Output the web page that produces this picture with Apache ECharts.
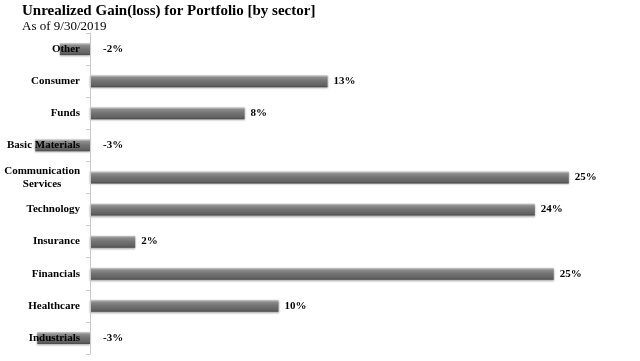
<!DOCTYPE html>
<html>
<head>
<meta charset="utf-8">
<script src="https://cdn.jsdelivr.net/npm/echarts@6/dist/echarts.min.js"></script>
<style>html,body{margin:0;padding:0;background:#fff;}#c{width:640px;height:361px;}</style>
</head>
<body>
<div id="c"></div>
<script>
var categories = ["Other", "Consumer", "Funds", "Basic Materials", "Communication\nServices", "Technology", "Insurance", "Financials", "Healthcare", "Industrials"];
var values = [-1.6, 12.6, 8.2, -2.9, 25.4, 23.6, 2.4, 24.6, 10.0, -2.8];
var titleText = "Unrealized Gain(loss) for Portfolio [by sector]";
var subText = "As of 9/30/2019";

var font = "'Liberation Serif', 'Times New Roman', serif";
var chart = echarts.init(document.getElementById('c'), null, {renderer: 'canvas'});
var barColor = new echarts.graphic.LinearGradient(0, 0, 0, 1, [
  {offset: 0, color: '#d2d2d2'},
  {offset: 0.18, color: '#8c8c8c'},
  {offset: 0.5, color: '#727272'},
  {offset: 0.85, color: '#626262'},
  {offset: 1, color: '#474747'}
]);
chart.setOption({
  animation: false,
  title: {
    text: titleText,
    subtext: subText,
    left: 17,
    top: -1,
    itemGap: 1,
    textStyle: {fontFamily: font, fontWeight: 'bold', fontSize: 15, color: '#000'},
    subtextStyle: {fontFamily: font, fontWeight: 'normal', fontSize: 13, color: '#000'}
  },
  grid: {left: 14.6, right: 59.9, top: 33, bottom: 7, containLabel: false, outerBoundsMode: 'none'},
  xAxis: {
    type: 'value', min: -4, max: 26, show: false
  },
  yAxis: {
    type: 'category',
    data: categories,
    inverse: true,
    z: 5,
    offset: -75.4,
    axisLine: {onZero: false, lineStyle: {color: '#c8c8c8', width: 1}},
    axisTick: {show: true, length: 4, lineStyle: {color: '#c8c8c8'}},
    axisLabel: {
      margin: 10,
      fontFamily: font, fontWeight: 'bold', fontSize: 11, color: '#000',
      formatter: function (v) {
        if (v.indexOf('\n') >= 0) {
          return v.split('\n').map(function (s) { return '{c|' + s + '}'; }).join('\n');
        }
        return v;
      },
      rich: {c: {align: 'center', fontFamily: font, fontWeight: 'bold', fontSize: 11, color: '#000', lineHeight: 13}}
    },
    splitLine: {show: false}
  },
  series: [{
    type: 'bar',
    data: values.map(function (v) {
      return v < 0 ? {value: v, label: {position: 'right', distance: 13}} : v;
    }),
    barWidth: 12,
    itemStyle: {color: barColor, shadowColor: 'rgba(0,0,0,0.35)', shadowBlur: 2, shadowOffsetY: 1},
    label: {
      show: true,
      position: 'right',
      distance: 6,
      fontFamily: font, fontWeight: 'bold', fontSize: 11, color: '#000',
      formatter: function (p) { return Math.round(p.value) + '%'; }
    }
  }]
});
</script>
</body>
</html>
